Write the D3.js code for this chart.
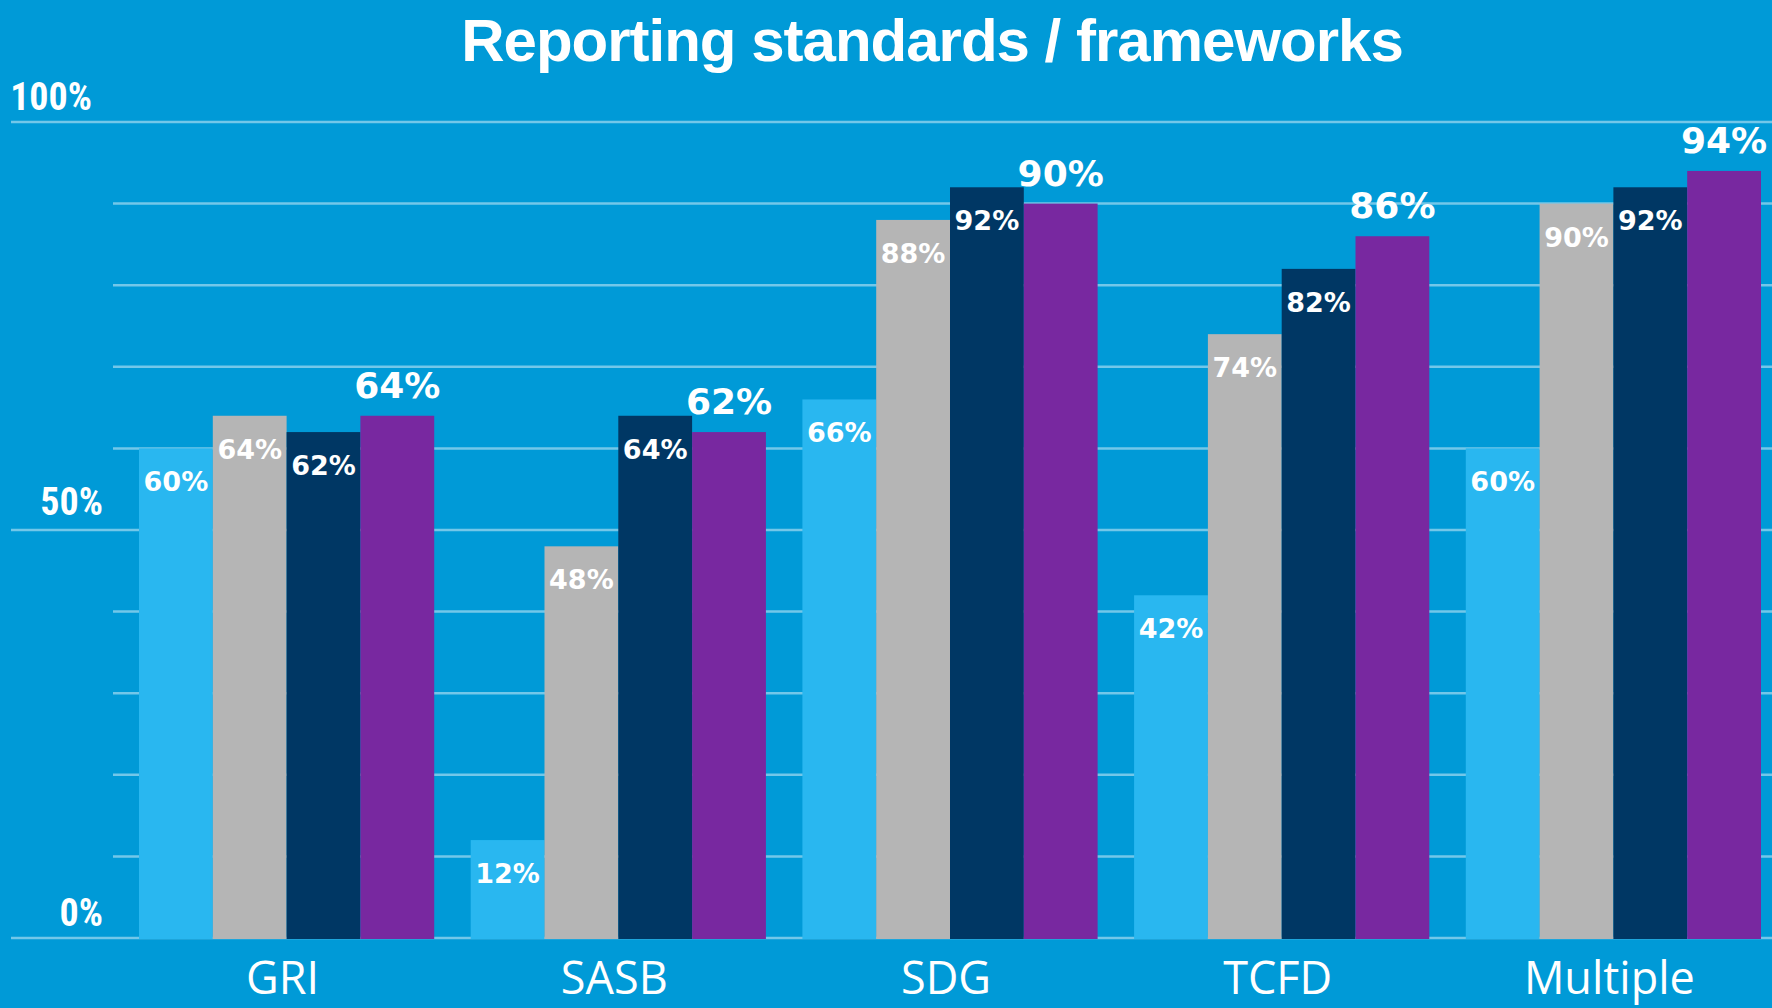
<!DOCTYPE html>
<html>
<head>
<meta charset="utf-8">
<script src="https://cdn.jsdelivr.net/npm/d3@7"></script>
<style>
  html, body { margin: 0; padding: 0; background: #009ad7; }
  svg { display: block; }
  .title { font-family: "Liberation Sans", Arial, sans-serif; font-weight: 700; fill: #fff; }
  .y-label { font-family: "Liberation Sans Narrow", "Roboto Condensed", "DejaVu Sans Condensed", sans-serif; font-stretch: condensed; font-weight: 700; fill: #fff; }
  .x-label { font-family: "Open Sans", sans-serif; font-weight: 400; fill: #fff; }
  .bar-label { font-family: "DejaVu Sans", sans-serif; font-weight: 700; fill: #fff; }
</style>
</head>
<body>
<div id="chart"></div>
<script>
// datos
const categories = ['GRI', 'SASB', 'SDG', 'TCFD', 'Multiple'];
const seriesKeys = ['s1', 's2', 's3', 's4'];
const s1Values = [60, 12, 66, 42, 60];
const s2Values = [64, 48, 88, 74, 90];
const s3Values = [62, 64, 92, 82, 92];
const s4Values = [64, 62, 90, 86, 94];
const yTicks = [0, 10, 20, 30, 40, 50, 60, 70, 80, 90, 100];
const yLabelTicks = [0, 50, 100];
const colors = ['#29b7f0', '#b5b5b5', '#003764', '#7828a0'];

const allValues = [s1Values, s2Values, s3Values, s4Values];
const data = categories.map((c, i) => ({
    cat: c,
    vals: seriesKeys.map((k, j) => ({ key: k, idx: j, value: allValues[j][i] }))
}));

const width = 1772, height = 1008;

const svg = d3.select('#chart').append('svg')
    .attr('width', width)
    .attr('height', height);

svg.append('rect')
    .attr('width', width)
    .attr('height', height)
    .attr('fill', '#009ad7');

// escalas
const y = d3.scaleLinear().domain([0, 100]).range([938, 122]);

const x0 = d3.scaleBand()
    .domain(categories)
    .range([139, 1761])
    .paddingInner(0.11)
    .paddingOuter(0);

const x1 = d3.scaleBand()
    .domain(seriesKeys)
    .range([0, x0.bandwidth()]);

// lineas de la rejilla
svg.append('g')
    .selectAll('line')
    .data(yTicks)
    .enter()
    .append('line')
    .attr('x1', d => yLabelTicks.includes(d) ? 11 : 113)
    .attr('x2', width)
    .attr('y1', d => y(d))
    .attr('y2', d => y(d))
    .attr('stroke', 'rgba(255,255,255,0.45)')
    .attr('stroke-width', 2.5);

// etiquetas eje Y
svg.append('g')
    .selectAll('text')
    .data(yLabelTicks)
    .enter()
    .append('text')
    .attr('class', 'y-label')
    .attr('x', d => d == 100 ? 92 : 103)
    .attr('y', d => y(d) - (d == 50 ? 15 : 12))
    .attr('text-anchor', 'end')
    .style('font-size', '38px')
    .text(d => d + '%');

// barras
const groups = svg.append('g')
    .selectAll('g')
    .data(data)
    .enter()
    .append('g')
    .attr('transform', d => 'translate(' + x0(d.cat) + ',0)');

groups.selectAll('rect')
    .data(d => d.vals)
    .enter()
    .append('rect')
    .attr('x', d => x1(d.key))
    .attr('y', d => y(d.value))
    .attr('width', x1.bandwidth())
    .attr('height', d => y(0) - y(d.value) + 1)
    .attr('fill', d => colors[d.idx]);

groups.selectAll('text')
    .data(d => d.vals)
    .enter()
    .append('text')
    .attr('class', 'bar-label')
    .attr('x', d => x1(d.key) + x1.bandwidth() / 2)
    .attr('y', d => d.idx == 3 ? y(d.value) - 18 : y(d.value) + 43)
    .attr('text-anchor', 'middle')
    .style('font-size', d => d.idx == 3 ? '36px' : '27px')
    .text(d => d.value + '%');

// etiquetas eje X
svg.append('g')
    .selectAll('text')
    .data(categories)
    .enter()
    .append('text')
    .attr('class', 'x-label')
    .attr('x', d => x0(d) + x0.bandwidth() / 2 - 4)
    .attr('y', 994)
    .attr('text-anchor', 'middle')
    .style('font-size', '45px')
    .text(d => d);

// titulo
svg.append('text')
    .attr('class', 'title')
    .attr('x', 932)
    .attr('y', 61)
    .attr('text-anchor', 'middle')
    .style('font-size', '60px')
    .style('letter-spacing', '-1px')
    .text('Reporting standards / frameworks');
</script>
</body>
</html>
